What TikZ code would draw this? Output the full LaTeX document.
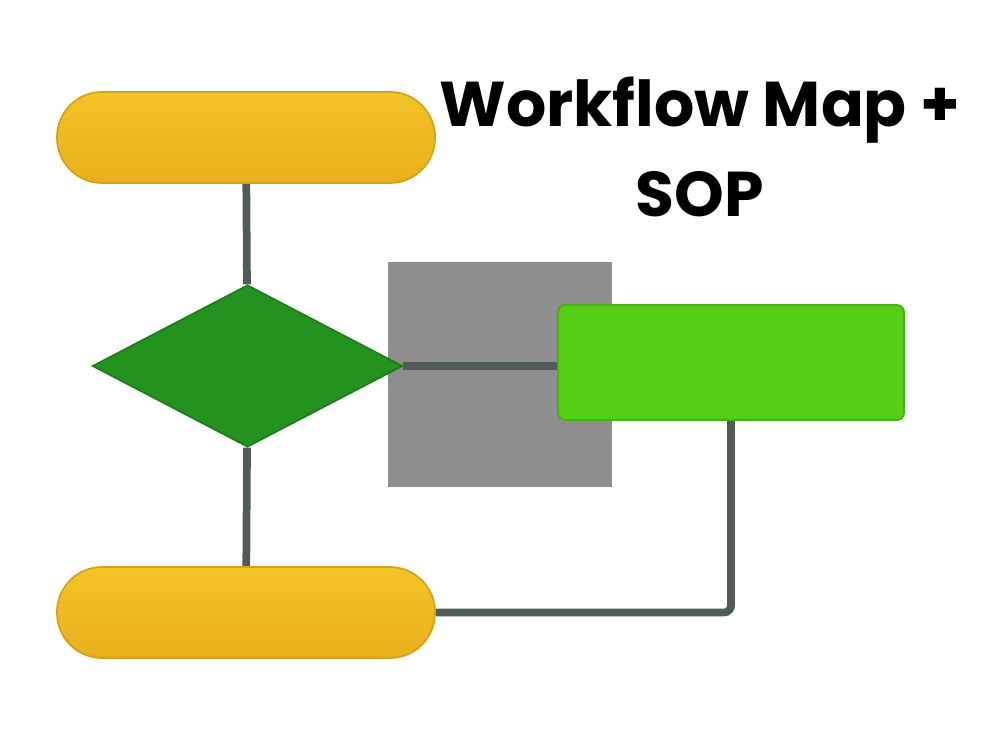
\documentclass[tikz,border=0pt]{standalone}
\usepackage{fontspec}
\newfontfamily\titlefont{Poppins}
\usepackage{tikz}
\usetikzlibrary{shapes.geometric,backgrounds}

\definecolor{pillyellow}{HTML}{F2C426}
\definecolor{pillyellowdk}{HTML}{E8B01C}
\definecolor{decidegreen}{HTML}{23921F}
\definecolor{taskgreen}{HTML}{55CF16}
\definecolor{boxgray}{HTML}{8E8E8E}
\definecolor{linkgray}{HTML}{515C59}

\tikzset{
  pill/.style={rectangle, rounded corners=0.45cm, minimum width=3.78cm, minimum height=0.91cm,
    top color=pillyellow, bottom color=pillyellowdk, draw=pillyellowdk!92!black, line width=0.5pt},
  decide/.style={diamond, minimum width=3.1cm, minimum height=1.62cm, inner sep=0pt,
    fill=decidegreen, draw=decidegreen!85!black, line width=0.5pt},
  taskbox/.style={rectangle, rounded corners=2pt, minimum width=3.46cm, minimum height=1.15cm,
    fill=taskgreen, draw=taskgreen!85!black, line width=0.5pt},
  link/.style={draw=linkgray, line width=2.2pt, rounded corners=2pt}
}

\begin{document}
\begin{tikzpicture}
\useasboundingbox (0,0) rectangle (10,7.5);
\node[pill] (start) at (2.46,6.125) {};
\node[decide] (check) at (2.475,3.84) {};
\node[taskbox] (task) at (7.31,3.875) {};
\node[pill] (stop) at (2.46,1.375) {};
\node[font=\titlefont\bfseries\fontsize{18}{25.6}\selectfont, align=center] (title) at (7.0,6.03)
  {Workflow Map +\\SOP};
\begin{pgfonlayer}{background}
\fill[boxgray] (3.88,2.63) rectangle (6.12,4.88);
\draw[link] (start) -- (check);
\draw[link] (check) -- (stop);
\draw[link] (check.east) -- (task.west |- check.east);
\draw[link] (task.south) |- (stop.east);
\end{pgfonlayer}
\end{tikzpicture}
\end{document}
